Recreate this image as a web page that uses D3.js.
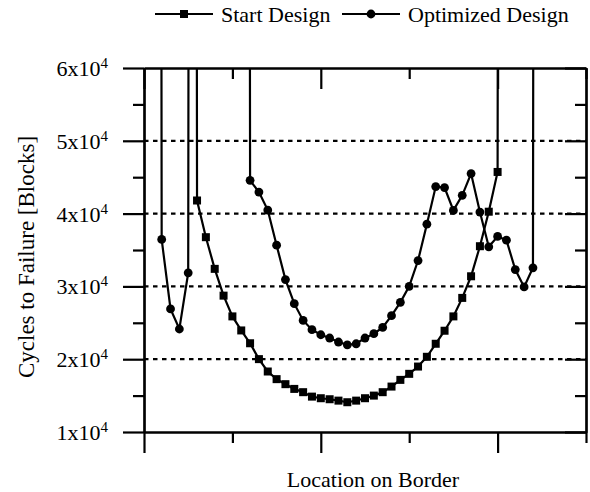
<!DOCTYPE html>
<html>
<head>
<meta charset="utf-8">
<script src="https://cdn.jsdelivr.net/npm/d3@7"></script>
<style>
  body { margin: 0; background: #fff; }
</style>
</head>
<body>
<div id="canvas"></div>
<script>
// value far above the axis range (shows up as a vertical spike out of the top)
const OFF = 1e6;

// one entry per location index on the border, null = no point
const startDesign = [null, null, null, null, null, OFF,
  41800, 36760, 32410, 28730, 25880, 23950, 22190, 20010, 18310, 17260,
  16570, 15920, 15470, 14860, 14640, 14500, 14310, 14090, 14310, 14640,
  15000, 15470, 16240, 17160, 17990, 18990, 20330, 22120, 23910, 25880,
  28420, 31390, 35520, 40260, 45720, OFF];

const optimizedDesign = [null, OFF,
  36450, 26900, 24150, 31860,
  OFF, OFF, OFF, OFF, OFF, OFF,
  44570, 42950, 40480, 35660, 30940, 27630, 25330, 24050, 23360, 22910,
  22360, 21980, 22120, 22910, 23500, 24370, 25980, 27810, 30010, 33550,
  38550, 43710, 43570, 40440, 42510, 45500, 40210, 35440, 36860, 36350,
  32310, 29930, 32550, OFF];

const yMajor = [10000, 20000, 30000, 40000, 50000, 60000];
const yMinor = [15000, 25000, 35000, 45000, 55000];
const yGrid = [20000, 30000, 40000, 50000];
const xMajor = [0, 20, 40];
const xMinor = [10, 30, 50];

const FONT = "'Liberation Serif', 'Times New Roman', 'DejaVu Serif', serif";
const width = 590;
const height = 492;
const margin = { top: 68, left: 144, bottom: 60, right: 4 };
const iwidth = width - margin.left - margin.right;
const iheight = height - margin.top - margin.bottom;

const svg = d3.select("#canvas").append("svg")
  .attr("width", width).attr("height", height);

svg.append("defs").append("clipPath").attr("id", "clip")
  .append("rect").attr("width", iwidth).attr("height", iheight);

const g = svg.append("g")
  .attr("transform", `translate(${margin.left},${margin.top})`);

const x = d3.scaleLinear().domain([0, 50]).range([0, iwidth]);
const y = d3.scaleLinear().domain([10000, 60000]).range([iheight, 0]);

// dotted grid
g.selectAll(".grid").data(yGrid).enter().append("line")
  .attr("x1", 0).attr("x2", iwidth)
  .attr("y1", d => y(d)).attr("y2", d => y(d))
  .attr("stroke", "#000").attr("stroke-width", 2.2)
  .attr("stroke-dasharray", "4.5,4.5");

// series
const plot = g.append("g").attr("clip-path", "url(#clip)");
const line = d3.line()
  .defined(d => d != null)
  .x((d, i) => x(i))
  .y(d => y(d));

function series(data, shape) {
  plot.append("path").datum(data)
    .attr("fill", "none").attr("stroke", "#000").attr("stroke-width", 2.2)
    .attr("d", line);
  const pts = data.map((v, i) => ({ i, v })).filter(d => d.v != null && d.v < OFF);
  if (shape === "square") {
    plot.selectAll(null).data(pts).enter().append("rect")
      .attr("x", d => x(d.i) - 4).attr("y", d => y(d.v) - 4)
      .attr("width", 8).attr("height", 8).attr("fill", "#000");
  } else {
    plot.selectAll(null).data(pts).enter().append("circle")
      .attr("cx", d => x(d.i)).attr("cy", d => y(d.v))
      .attr("r", 4.4).attr("fill", "#000");
  }
}
series(startDesign, "square");
series(optimizedDesign, "circle");

// axes (ticks out on bottom/left, mirrored inward on top/right)
function axis(gen, values, size, transform) {
  const a = g.append("g").attr("transform", transform || null)
    .call(gen.tickValues(values).tickSize(size).tickSizeOuter(0).tickFormat(""));
  a.selectAll("path, line").attr("stroke", "#000").attr("stroke-width", 2.2);
  return a;
}
axis(d3.axisBottom(x), xMajor, 21, `translate(0,${iheight})`);
axis(d3.axisBottom(x), xMinor, 11, `translate(0,${iheight})`);
axis(d3.axisTop(x), xMajor, -21);
axis(d3.axisTop(x), xMinor, -11);
axis(d3.axisLeft(y), yMajor, 21);
axis(d3.axisLeft(y), yMinor, 11);
axis(d3.axisRight(y), yMajor, -21, `translate(${iwidth},0)`);
axis(d3.axisRight(y), yMinor, -11, `translate(${iwidth},0)`);

// y tick labels  "Nx10^4"
const lab = g.selectAll(".ylab").data(yMajor).enter().append("text")
  .attr("x", -36).attr("y", d => y(d) + 8)
  .attr("text-anchor", "end")
  .style("font-family", FONT).style("font-size", "22px");
lab.append("tspan").text(d => (d / 10000) + "x10");
lab.append("tspan").attr("dy", -8).style("font-size", "15px").text("4");

// axis titles
svg.append("text")
  .attr("x", margin.left + iwidth / 2 + 8).attr("y", 487)
  .attr("text-anchor", "middle")
  .style("font-family", FONT).style("font-size", "22px")
  .text("Location on Border");
svg.append("text")
  .attr("transform", `translate(34,${margin.top + iheight / 2 + 7}) rotate(-90)`)
  .attr("text-anchor", "middle")
  .style("font-family", FONT).style("font-size", "23px")
  .text("Cycles to Failure [Blocks]");

// legend
const legend = [
  { name: "Start Design", shape: "square", x0: 155 },
  { name: "Optimized Design", shape: "circle", x0: 342 }
];
const lg = svg.selectAll(".legend").data(legend).enter().append("g")
  .attr("transform", d => `translate(${d.x0},14)`);
lg.append("line").attr("x1", 0).attr("x2", 58)
  .attr("stroke", "#000").attr("stroke-width", 2.2);
lg.filter(d => d.shape === "square").append("rect")
  .attr("x", 25).attr("y", -4).attr("width", 8).attr("height", 8).attr("fill", "#000");
lg.filter(d => d.shape === "circle").append("circle")
  .attr("cx", 29).attr("cy", 0).attr("r", 4.4).attr("fill", "#000");
lg.append("text").attr("x", 66).attr("y", 8)
  .style("font-family", FONT).style("font-size", "22px")
  .text(d => d.name);
</script>
</body>
</html>
